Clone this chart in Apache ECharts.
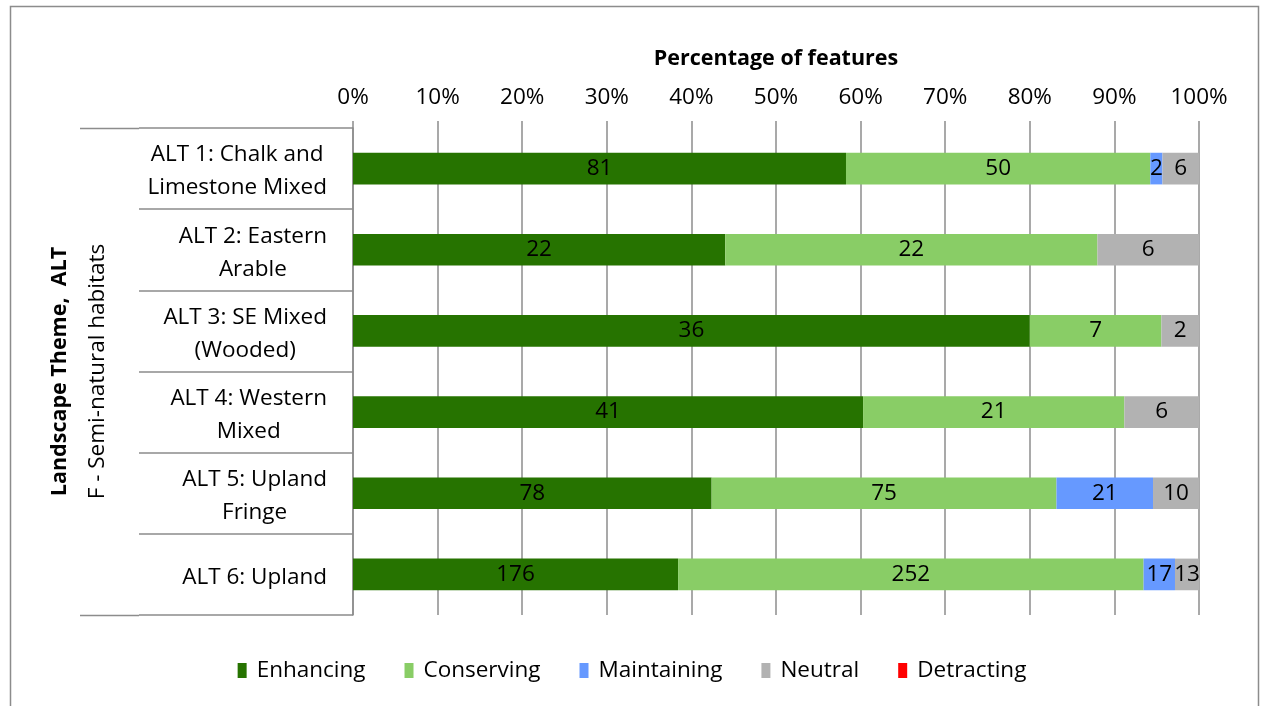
<!DOCTYPE html>
<html>
<head>
<meta charset="utf-8">
<script src="https://cdn.jsdelivr.net/npm/echarts@6/dist/echarts.min.js"></script>
<style>
  html, body { margin: 0; padding: 0; background: #fff; }
  #chart { width: 1264px; height: 706px; }
</style>
</head>
<body>
<div id="chart"></div>
<script>
// Landscape themes (rows, top to bottom)
const categories = [
  'ALT 1: Chalk and\nLimestone Mixed',
  'ALT 2: Eastern\nArable',
  'ALT 3: SE Mixed\n(Wooded)',
  'ALT 4: Western\nMixed',
  'ALT 5: Upland\nFringe',
  'ALT 6: Upland'
];

// Number of features in each class, per theme
const enhancing   = [81, 22, 36, 41, 78, 176];
const conserving  = [50, 22, 7, 21, 75, 252];
const maintaining = [2, 0, 0, 0, 21, 17];
const neutral     = [6, 6, 2, 6, 10, 13];
const detracting  = [0, 0, 0, 0, 0, 0];

const seriesNames = ['Enhancing', 'Conserving', 'Maintaining', 'Neutral', 'Detracting'];
const xTicks = [0, 10, 20, 30, 40, 50, 60, 70, 80, 90, 100];

const colors = ['#267300', '#89cd66', '#6699ff', '#b2b2b2', '#ff0000'];
const FONT = 'Open Sans';
const FS = 22.5;
const FS_BOLD = 21.5;
const GRID = { left: 353, right: 65, top: 128, bottom: 91 };
const CHART_H = 706;

const counts = [enhancing, conserving, maintaining, neutral, detracting];
const totals = categories.map((_, i) => counts.reduce((s, arr) => s + arr[i], 0));

const series = seriesNames.map((name, k) => ({
  name: name,
  type: 'bar',
  stack: 'total',
  barWidth: '39%',
  itemStyle: { color: colors[k] },
  label: {
    show: true,
    position: 'inside',
    color: '#000',
    fontFamily: FONT,
    fontSize: FS,
    formatter: p => {
      const c = counts[k][p.dataIndex];
      return c > 0 ? String(c) : '';
    }
  },
  emphasis: { disabled: true },
  data: counts[k].map((c, i) => (totals[i] ? c / totals[i] * 100 : 0))
}));

const chart = echarts.init(document.getElementById('chart'), null, { renderer: 'canvas' });

const yTop = GRID.top + 0.5;
const yBottom = CHART_H - GRID.bottom + 0.5;
const lineStyle = { stroke: '#8c8c8c', lineWidth: 1.5 };

chart.setOption({
  animation: false,
  backgroundColor: '#fff',
  textStyle: { fontFamily: FONT, color: '#000' },
  grid: GRID,
  legend: {
    top: 654,
    left: 'center',
    icon: 'rect',
    itemWidth: 9,
    itemHeight: 15,
    itemGap: 39,
    textStyle: { fontFamily: FONT, fontSize: FS, color: '#000', padding: [0, 0, 0, 5] },
    data: seriesNames
  },
  xAxis: {
    type: 'value',
    position: 'top',
    min: xTicks[0],
    max: xTicks[xTicks.length - 1],
    interval: xTicks[1] - xTicks[0],
    name: 'Percentage of features',
    nameLocation: 'middle',
    nameGap: 69,
    nameTextStyle: { fontFamily: FONT, fontSize: FS_BOLD, fontWeight: 'bold', color: '#000', verticalAlign: 'middle' },
    axisLine: { show: false },
    axisTick: { show: true, length: 7, lineStyle: { color: '#8c8c8c', width: 1.5 } },
    axisLabel: { fontFamily: FONT, fontSize: FS, color: '#000', margin: 19, formatter: '{value}%' },
    splitLine: { show: true, lineStyle: { color: '#8c8c8c', width: 1.5 } }
  },
  yAxis: {
    type: 'category',
    inverse: true,
    data: categories,
    axisLine: { show: true, lineStyle: { color: '#8c8c8c', width: 1.5 } },
    axisTick: { show: true, length: 214, interval: 0, lineStyle: { color: '#8c8c8c', width: 1.5 } },
    axisLabel: {
      margin: 26,
      align: 'right',
      padding: [6, 0, 0, 0],
      formatter: v => v.split('\n').map(l => '{c|' + l + '}').join('\n'),
      rich: {
        c: { align: 'center', fontFamily: FONT, fontSize: FS, color: '#000', lineHeight: 33 }
      }
    }
  },
  graphic: [
    // outer frame
    { type: 'rect', silent: true, shape: { x: 10.5, y: 6.5, width: 1248, height: 720 },
      style: { fill: null, stroke: '#8c8c8c', lineWidth: 1.5 } },
    // outer group boundaries extending the first and last category separators
    { type: 'line', silent: true, shape: { x1: 80, y1: yTop, x2: GRID.left - 214, y2: yTop }, style: lineStyle },
    { type: 'line', silent: true, shape: { x1: 80, y1: yBottom, x2: GRID.left - 214, y2: yBottom }, style: lineStyle },
    // group label for the category axis
    {
      type: 'text', silent: true,
      x: 79, y: (GRID.top + CHART_H - GRID.bottom) / 2,
      rotation: Math.PI / 2,
      style: {
        text: '{b|Landscape Theme,  ALT}\n{n|F - Semi-natural habitats}',
        align: 'center',
        verticalAlign: 'middle',
        rich: {
          b: { fontFamily: FONT, fontSize: FS_BOLD, fontWeight: 'bold', color: '#000', lineHeight: 38, align: 'center' },
          n: { fontFamily: FONT, fontSize: FS, color: '#000', lineHeight: 38, align: 'center' }
        }
      }
    }
  ],
  series: series
});
</script>
</body>
</html>
